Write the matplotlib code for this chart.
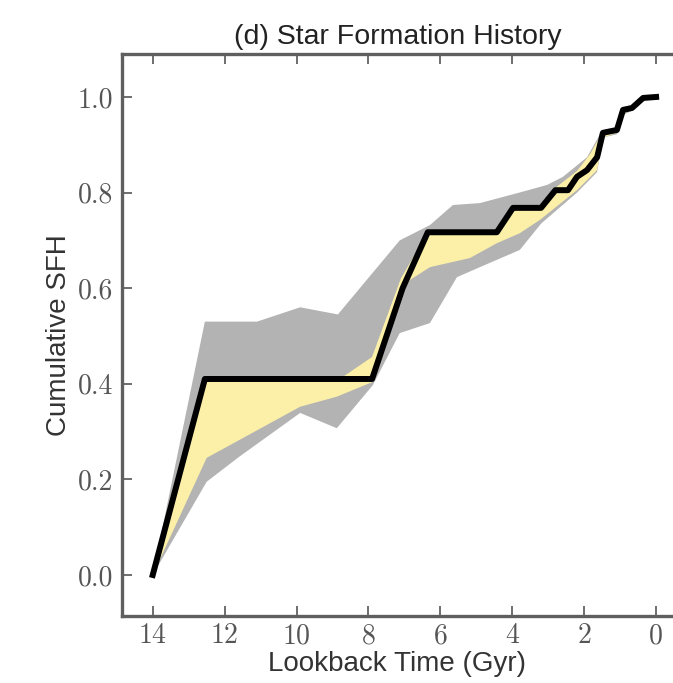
import matplotlib
matplotlib.use("Agg")
import matplotlib.pyplot as plt

# median cumulative SFH (lookback time in Gyr)
med_t = [14.0, 12.55, 7.9, 7.05, 6.35, 4.43, 3.98, 3.2, 2.8, 2.45, 2.2, 1.92,
         1.64, 1.48, 1.09, 0.92, 0.67, 0.36, 0.0]
med_y = [0.0, 0.41, 0.41, 0.60, 0.717, 0.717, 0.768, 0.768, 0.805, 0.805, 0.833,
         0.847, 0.874, 0.925, 0.931, 0.973, 0.977, 0.998, 1.0]

# outer (grey) band
grey_hi_t = [14.0, 12.55, 11.1, 9.9, 8.85, 7.13, 6.29, 5.65, 4.9, 3.8, 3.03, 2.59,
             1.92, 1.5, 1.1, 0.9, 0.65, 0.35, 0.0]
grey_hi = [0.0, 0.53, 0.53, 0.56, 0.545, 0.70, 0.732, 0.774, 0.778, 0.80, 0.816,
           0.833, 0.874, 0.93, 0.935, 0.975, 0.98, 1.0, 1.0]
grey_lo_t = [14.0, 12.5, 11.6, 9.9, 8.88, 7.88, 7.13, 6.29, 5.54, 4.9, 3.79, 3.2,
             2.2, 1.64, 1.48, 1.09, 0.9, 0.65, 0.35, 0.0]
grey_lo = [0.0, 0.195, 0.247, 0.339, 0.307, 0.397, 0.506, 0.527, 0.623, 0.644,
           0.68, 0.735, 0.80, 0.843, 0.915, 0.922, 0.963, 0.972, 0.994, 1.0]

# inner (yellow) band
yel_hi_t = [14.0, 12.55, 8.7, 7.9, 7.1, 6.35, 4.43, 3.98, 3.2, 2.8, 2.2, 1.84,
            1.5, 1.1, 0.9, 0.65, 0.35, 0.0]
yel_hi = [0.0, 0.41, 0.415, 0.456, 0.62, 0.717, 0.717, 0.768, 0.77, 0.81, 0.845,
          0.88, 0.925, 0.935, 0.973, 0.98, 1.0, 1.0]
yel_lo_t = [14.0, 12.5, 11.6, 9.9, 8.88, 7.88, 7.08, 6.85, 6.29, 5.18, 4.43, 3.79,
            3.23, 2.2, 1.64, 1.48, 1.09, 0.9, 0.65, 0.35, 0.0]
yel_lo = [0.0, 0.245, 0.282, 0.352, 0.373, 0.404, 0.59, 0.617, 0.644, 0.663, 0.694,
          0.715, 0.743, 0.805, 0.847, 0.915, 0.925, 0.965, 0.975, 0.995, 1.0]

xticks = [14, 12, 10, 8, 6, 4, 2, 0]
yticks = [0.0, 0.2, 0.4, 0.6, 0.8, 1.0]

fig = plt.figure(figsize=(6.73, 6.83), dpi=100)
ax = fig.add_axes([0.181, 0.098, 0.819, 0.823])

ax.fill(grey_hi_t + grey_lo_t[::-1], grey_hi + grey_lo[::-1],
        color="#b3b3b3", lw=0, zorder=1)
ax.fill(yel_hi_t + yel_lo_t[::-1], yel_hi + yel_lo[::-1],
        color="#fcf0a8", lw=0, zorder=2)
ax.plot(med_t, med_y, color="black", lw=4.3, zorder=3)

ax.set_xlim(14.86, -0.47)
ax.set_ylim(-0.086, 1.09)
ax.set_xticks(xticks)
ax.set_yticks(yticks)
ax.set_xticklabels([str(v) for v in xticks])
ax.set_yticklabels(["%.1f" % v for v in yticks])

for s in ["left", "bottom", "top"]:
    ax.spines[s].set_linewidth(2.4)
    ax.spines[s].set_color("#5f5f5f")
ax.spines["right"].set_visible(False)

ax.tick_params(direction="in", length=7, width=1.2, color="#555555",
               top=True, labelsize=20, labelcolor="#555555")
ax.tick_params(axis="y", pad=6.5)
ax.tick_params(axis="x", pad=5)
for lbl in ax.get_xticklabels() + ax.get_yticklabels():
    lbl.set_fontfamily("cmr10")

sans = "Liberation Sans"
ax.set_xlabel("Lookback Time (Gyr)", fontsize=20, family=sans, color="#333333",
              labelpad=1)
ax.set_ylabel("Cumulative SFH", fontsize=20, family=sans, color="#333333",
              labelpad=4)
ax.set_title("(d) Star Formation History", fontsize=20.5, family=sans,
             color="#222222", pad=7)

fig.savefig("out.png", dpi=100)
